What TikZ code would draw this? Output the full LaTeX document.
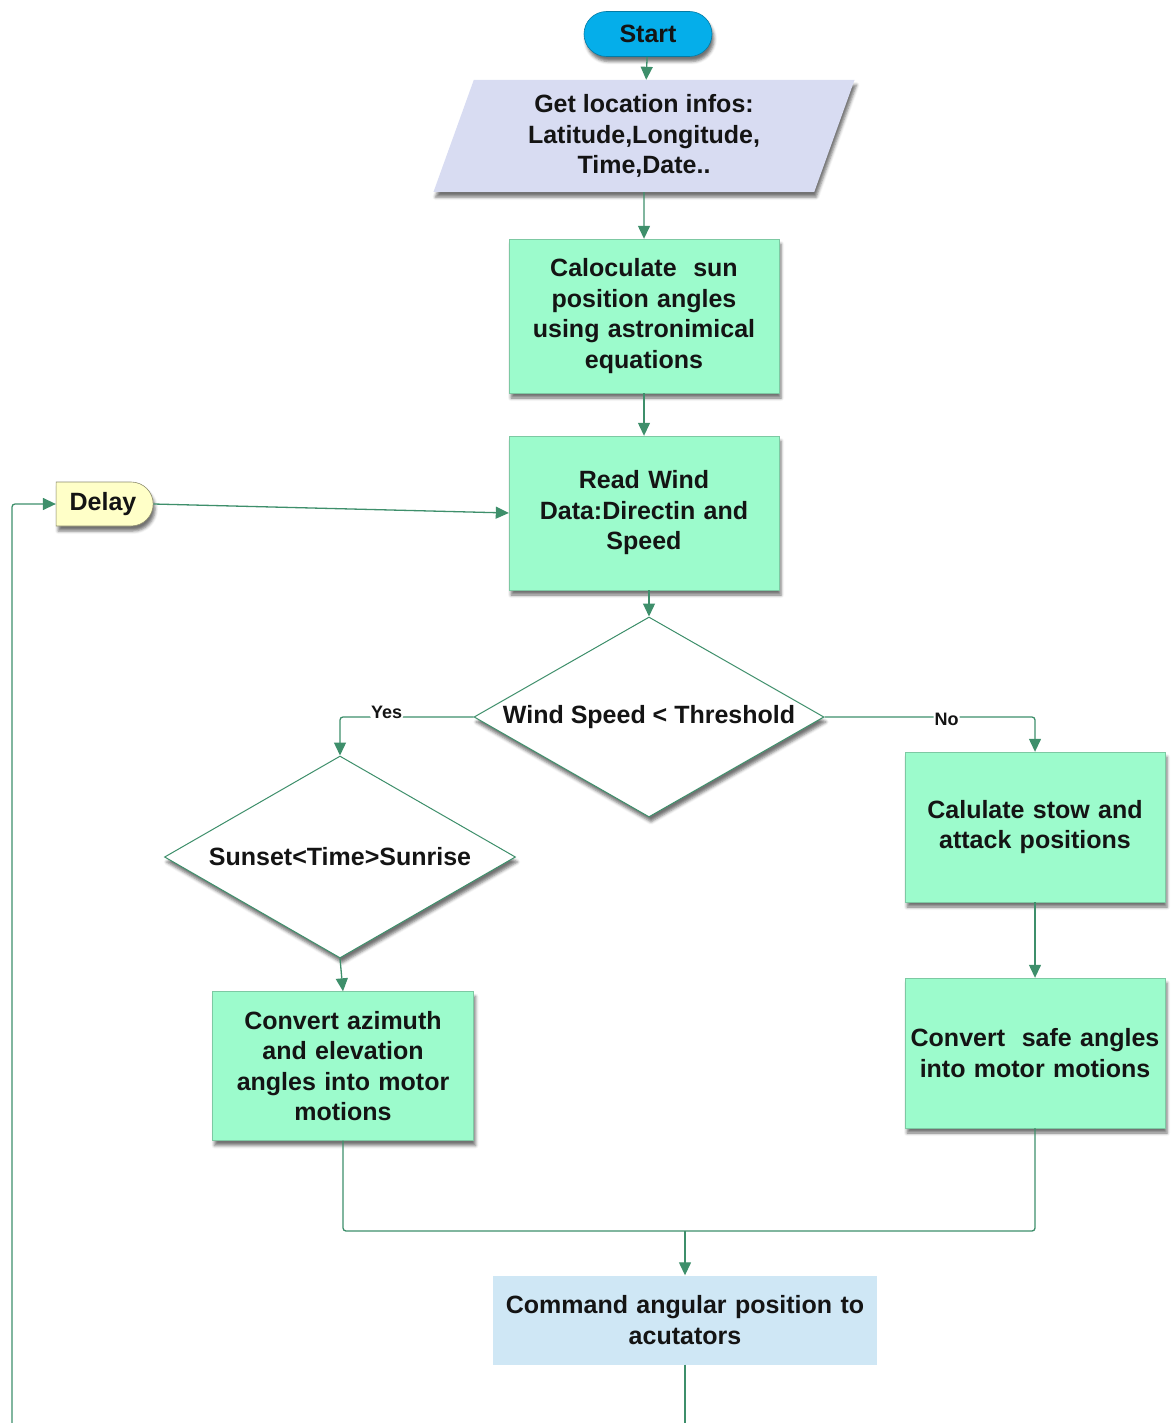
\documentclass[tikz,border=0pt]{standalone}
\usepackage{fontspec}
\setmainfont{Liberation Sans}
\usetikzlibrary{shapes.geometric,shapes.misc,arrows.meta,shadows.blur}

\definecolor{flow}{HTML}{3E8F6B}
\definecolor{mint}{HTML}{9CFBCC}
\definecolor{lavender}{HTML}{D8DCF2}
\definecolor{startblue}{HTML}{05AEEA}
\definecolor{cream}{HTML}{FFFFC8}
\definecolor{paleblue}{HTML}{CFE7F5}
\definecolor{ink}{HTML}{141414}

\tikzset{
  txt/.style={font=\fontsize{25}{30.5}\selectfont\bfseries, text=ink, align=center},
  shade/.style={blur shadow={shadow xshift=2pt, shadow yshift=-5pt, shadow blur radius=3pt, shadow opacity=55}},
  procbox/.style={txt, shade, rectangle, fill=mint, draw=mint!80!black, line width=0.4pt,
    minimum width=270pt, minimum height=154pt, text width=255pt, inner sep=0pt},
  decision/.style={txt, shade, diamond, aspect=1.75, fill=white, draw=flow, line width=1pt, inner sep=0pt},
  conn/.style={draw=flow, line width=1.3pt, -{Triangle[length=13pt,width=12pt]}},
  plainconn/.style={draw=flow, line width=1.3pt},
  lbl/.style={font=\fontsize{18}{20}\selectfont\bfseries, text=ink, fill=white, inner sep=1pt}
}

\begin{document}
\begin{tikzpicture}[x=1pt, y=-1pt]
\useasboundingbox (0,0) rectangle (1170,1423);

% terminal and input
\node[txt, shade, rounded rectangle, fill=startblue, draw=startblue!70!black, line width=0.6pt,
      minimum width=128pt, minimum height=45pt, inner sep=0pt] (start) at (648,34) {Start};
\node[txt, shade, trapezium, trapezium left angle=71.7, trapezium right angle=108.3,
      trapezium stretches=true, fill=lavender, minimum width=422pt, minimum height=112pt,
      inner sep=0pt] (input) at (644,136) {Get location infos:\\Latitude,Longitude,\\Time,Date..};

% process steps
\node[procbox] (sun) at (644,316) {Caloculate\ \ sun\\position angles\\using astronimical\\equations};
\node[procbox] (wind) at (644,513) {Read Wind\\Data:Directin and\\Speed};

\node[txt, shade, rounded rectangle, rounded rectangle left arc=none, fill=cream,
      draw=cream!55!black, line width=0.6pt, minimum width=97pt, minimum height=44pt,
      inner sep=0pt] (delay) at (103,504) {Delay};

% decisions
\node[decision, minimum width=350pt, minimum height=200pt] (thr) at (649,717) {Wind Speed < Threshold};
\node[decision, minimum width=351pt, minimum height=202pt] (night) at (340,857) {Sunset<Time>Sunrise};

% branch boxes
\node[procbox, minimum width=260pt, minimum height=150pt] (stow) at (1035,827)
      {Calulate stow and\\attack positions};
\node[procbox, minimum width=260pt, minimum height=150pt, text width=258pt] (safe) at (1035,1053)
      {Convert\ \ safe angles\\into motor motions};
\node[procbox, minimum width=261pt, minimum height=149pt, text width=245pt] (conv) at (343,1066)
      {Convert azimuth\\and elevation\\angles into motor\\motions};

\node[txt, rectangle, fill=paleblue, minimum width=384pt, minimum height=89pt,
      text width=375pt, inner sep=0pt] (cmd) at (685,1320) {Command angular position to\\acutators};

% helper points
\coordinate (merge) at (685,1231);
\coordinate (cmdout) at (685,1423);
\coordinate (loopin) at (12,1423);

% connectors
\draw[conn] (start) -- (input);
\draw[conn] (input) -- (sun);
\draw[conn] (sun) -- (wind);
\draw[conn] (delay.east) -- (wind.west);
\draw[conn] (wind.south -| thr.north) -- (thr.north);
\draw[conn, rounded corners=3pt] (thr.west) -| node[lbl, pos=0.325, yshift=5pt] {Yes} (night.north);
\draw[conn, rounded corners=3pt] (thr.east) -| node[lbl, pos=0.29, yshift=-2pt] {No} (stow.north);
\draw[conn] (stow) -- (safe);
\draw[conn] (night.south) -- (conv.north);
\draw[plainconn, rounded corners=3pt] (conv.south) |- (merge) -| (safe.south);
\draw[conn] (merge) -- (cmd.north);
\draw[plainconn] (cmd.south) -- (cmdout);
\draw[conn, rounded corners=3pt] (loopin) |- (delay.west);
\end{tikzpicture}
\end{document}
